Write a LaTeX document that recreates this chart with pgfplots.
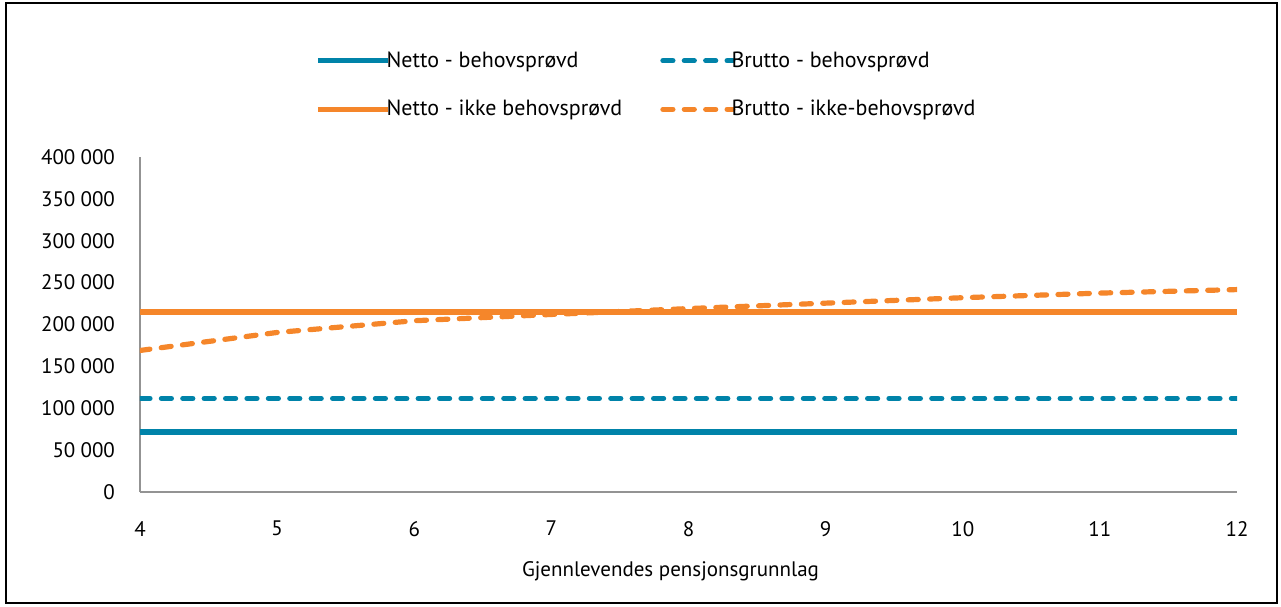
\documentclass[border=0pt]{standalone}
\usepackage{pgfplots}
\pgfplotsset{compat=1.18}
\usepackage{fontspec}
\setmainfont{PT Sans}
\definecolor{cblue}{HTML}{0083A9}
\definecolor{corange}{HTML}{F5862A}
\newcommand{\ts}{\kern2.6pt}
\begin{document}
\begin{tikzpicture}
\path[use as bounding box] (-70pt,-57pt) rectangle (570.5pt,246pt);
\draw[line width=1.1pt] (-67pt,-55.5pt) rectangle (568.5pt,244.5pt);
\begin{axis}[
  at={(0,0)}, anchor=south west,
  scale only axis, width=548.5pt, height=167.5pt,
  xmin=4, xmax=12, ymin=0, ymax=400000,
  xtick={4,5,6,7,8,9,10,11,12},
  xticklabels={4,5,6,7,8,9,10,11,12},
  ytick={0,50000,100000,150000,200000,250000,300000,350000,400000},
  yticklabels={0,50\ts000,100\ts000,150\ts000,200\ts000,250\ts000,300\ts000,350\ts000,400\ts000},
  axis x line=bottom, axis y line=left,
  axis line style={draw=gray!85, line width=0.8pt, -},
  tick style={draw=none},
  major tick length=0pt,
  scaled y ticks=false,
  tick label style={font=\fontsize{10.5}{12}\selectfont},
  xticklabel style={yshift=-11pt},
  yticklabel style={xshift=-9pt},
  xlabel={Gjennlevendes pensjonsgrunnlag},
  xlabel style={font=\fontsize{10.5}{12}\selectfont, yshift=-6pt, xshift=-9pt},
  legend columns=2,
  legend cell align=left,
  legend style={draw=none, fill=none, at={(87.5pt,222.5pt)}, anchor=north west,
    font=\fontsize{11}{12}\selectfont, row sep=11pt,
    /tikz/every even column/.append style={column sep=17pt},
    inner sep=0pt},
  legend image code/.code={\draw[#1] (0pt,0pt) -- (35pt,0pt);},
]
\addplot[cblue, line width=2.6pt] coordinates {(4,71600) (12,71600)};
\addlegendentry{\hspace{-4pt}Netto - behovsprøvd}
\addplot[cblue, line width=2.6pt, line cap=round, dash pattern=on 5pt off 5.7pt] coordinates {(4,111700) (12,111700)};
\addlegendentry{\hspace{-4pt}Brutto - behovsprøvd}
\addplot[corange, line width=2.6pt] coordinates {(4,215000) (12,215000)};
\addlegendentry{\hspace{-4pt}Netto - ikke behovsprøvd}
\addplot[corange, line width=2.6pt, line cap=round, dash pattern=on 5pt off 5.7pt] coordinates {(4,169000) (5,190500) (6,204500) (7,212000) (8,219000) (9,225500) (10,232000) (11,237500) (12,241700)};
\addlegendentry{\hspace{-4pt}Brutto - ikke-behovsprøvd}
\end{axis}
\end{tikzpicture}
\end{document}
